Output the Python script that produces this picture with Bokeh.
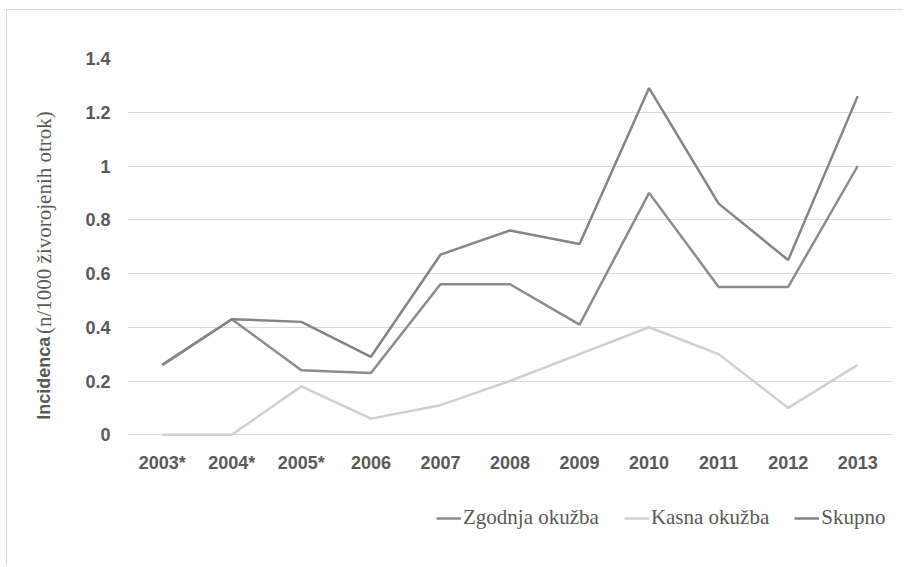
import math
from bokeh.plotting import figure
from bokeh.layouts import row
from bokeh.models import FactorRange, Range1d, Legend, LegendItem, FixedTicker
from bokeh.core.properties import value
from bokeh.embed import file_html
from bokeh.resources import INLINE

years = ["2003*", "2004*", "2005*", "2006", "2007", "2008", "2009", "2010", "2011", "2012", "2013"]
zgodnja = [0.26, 0.43, 0.24, 0.23, 0.56, 0.56, 0.41, 0.90, 0.55, 0.55, 1.00]
kasna = [0.0, 0.0, 0.18, 0.06, 0.11, 0.20, 0.30, 0.40, 0.30, 0.10, 0.26]
skupno = [0.26, 0.43, 0.42, 0.29, 0.67, 0.76, 0.71, 1.29, 0.86, 0.65, 1.26]
y_ticks = [0, 0.2, 0.4, 0.6, 0.8, 1, 1.2, 1.4]
series_names = ["Zgodnja okužba", "Kasna okužba", "Skupno"]
y_title_bold = "Incidenca"
y_title_rest = "(n/1000 živorojenih otrok)"

TXT = "#595959"
BORDER = "1px solid #d9d9d9"
SANS = "'Liberation Sans', Arial, sans-serif"
SERIF = "'Liberation Serif', 'Times New Roman', serif"
H = 557
TOP, BOTTOM = 48, 36
LW = 61
Y0 = -0.36   # extra room below zero inside the frame for the legend

# ---- y-axis title strip ----
lp = figure(x_range=Range1d(0, LW), y_range=Range1d(Y0, 1.4), width=LW, height=H,
            output_backend="svg", toolbar_location=None,
            min_border_left=0, min_border_right=0, min_border_top=TOP, min_border_bottom=BOTTOM)
lp.margin = (9, 0, 0, 6)
lp.styles = {"border-top": BORDER, "border-left": BORDER}
lp.axis.visible = False
lp.grid.visible = False
lp.outline_line_color = None
lp.text(x=[36], y=[0.056], text=[y_title_bold], angle=math.pi / 2,
        text_align="left", text_baseline="alphabetic",
        text_font=value(SANS), text_font_style="bold",
        text_font_size="18px", text_color=TXT)
lp.text(x=[36], y=[0.375], text=[y_title_rest], angle=math.pi / 2,
        text_align="left", text_baseline="alphabetic",
        text_font=value(SERIF),
        text_font_size="21px", text_color=TXT)

# ---- main chart ----
p = figure(x_range=FactorRange(*years, range_padding=0), y_range=Range1d(Y0, 1.4),
           width=836, height=H, output_backend="svg", toolbar_location=None,
           min_border_left=60, min_border_right=11, min_border_top=TOP, min_border_bottom=BOTTOM)
p.margin = (9, 0, 0, 0)
p.styles = {"border-top": BORDER}
p.outline_line_color = None

p.xgrid.grid_line_color = None
p.ygrid.grid_line_color = "#d9d9d9"
p.ygrid.grid_line_width = 1
p.yaxis.ticker = FixedTicker(ticks=y_ticks)
p.yaxis.major_label_overrides = {0: "0", 0.2: "0.2", 0.4: "0.4", 0.6: "0.6", 0.8: "0.8",
                                 1: "1", 1.2: "1.2", 1.4: "1.4"}
p.xaxis.fixed_location = 0

for ax in (p.xaxis[0], p.yaxis[0]):
    ax.axis_line_color = None
    ax.major_tick_line_color = None
    ax.minor_tick_line_color = None
    ax.major_label_text_font = SANS
    ax.major_label_text_font_style = "bold"
    ax.major_label_text_font_size = "18px"
    ax.major_label_text_color = TXT
p.xaxis.major_label_standoff = 12
p.yaxis.major_label_standoff = 11

r1 = p.line(years, zgodnja, line_color="#8c8c8c", line_width=2.5)
r2 = p.line(years, kasna, line_color="#d0d0d0", line_width=2.5)
r3 = p.line(years, skupno, line_color="#858585", line_width=2.5)

legend = Legend(items=[LegendItem(label=series_names[0], renderers=[r1]),
                       LegendItem(label=series_names[1], renderers=[r2]),
                       LegendItem(label=series_names[2], renderers=[r3])],
                orientation="horizontal", location=(309, 1),
                border_line_color=None, background_fill_alpha=0,
                padding=0, margin=0, spacing=25, label_standoff=2,
                glyph_width=25, glyph_height=20, label_height=20,
                label_text_font=SERIF, label_text_font_size="21px",
                label_text_color=TXT)
p.add_layout(legend, "center")

layout = row(lp, p)
open("out.html", "w").write(file_html(layout, INLINE))
